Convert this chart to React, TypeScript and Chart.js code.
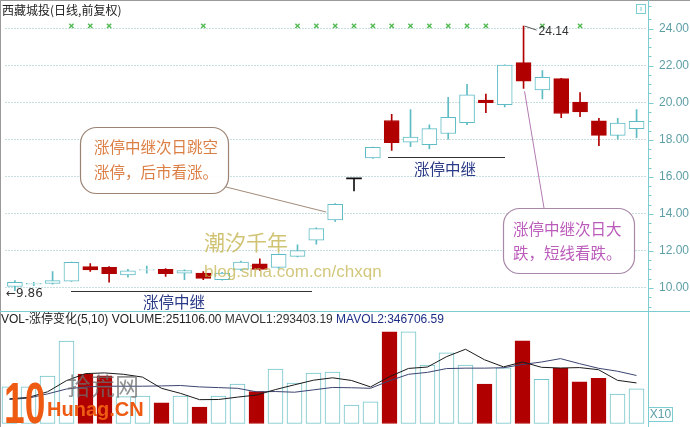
import React, { useEffect, useRef } from 'react';
import { Chart, registerables } from 'chart.js';
Chart.register(...registerables);

// ---------- data ----------
const days = ['1','2','3','4','5','6','7','8','9','10','11','12','13','14','15','16','17','18','19','20','21','22','23','24','25','26','27','28','29','30','31','32','33','34'];
const opens  = [10.08,10.20,10.24,10.37,11.15,11.11,10.70,10.96,11.01,10.80,10.80,10.45,11.00,11.30,11.11,11.71,12.58,13.67,15.92,17.02,19.04,17.87,17.73,18.34,18.92,20.15,19.89,22.17,20.69,21.30,20.03,19.02,18.24,18.60];
const highs  = [10.40,10.30,10.89,11.40,11.32,11.15,11.01,11.18,11.05,10.98,10.89,10.85,11.45,11.57,11.85,12.33,13.25,14.55,15.92,17.60,19.37,19.63,18.81,20.29,20.99,20.47,22.05,24.14,21.74,21.32,20.55,19.16,19.16,19.63];
const lows   = [9.86,10.12,10.20,10.35,10.89,10.31,10.59,10.80,10.63,10.45,10.45,10.42,10.95,10.95,11.05,11.68,12.37,13.59,15.24,17.00,17.42,17.63,17.51,18.03,18.81,19.47,19.77,20.78,20.21,19.20,19.25,17.68,18.03,18.12];
const closes = [10.30,10.25,10.40,11.39,10.98,10.77,10.92,10.99,10.77,10.94,10.52,10.80,11.40,11.00,11.81,12.02,13.20,14.51,15.92,17.59,17.84,18.15,18.60,19.21,20.43,20.01,22.03,21.16,21.37,19.42,19.51,18.24,18.90,18.99];
const volumes = [26600,26600,34300,59300,35700,34500,19500,20000,15200,20000,12100,20000,28500,23100,39300,29300,36400,37100,13600,15900,65900,65900,42100,50900,42100,28600,40200,59500,31900,39800,30200,32600,21400,25110];
const mavol1 = [18000,19000,23000,31000,36000,36500,35500,33500,25500,21900,17400,17500,19200,20700,24600,28000,31300,33000,31100,26500,33800,39700,40700,48100,53400,45900,40800,44300,40500,40000,40300,38800,31200,29340];
const mavol2 = [17500,18500,21500,25000,26500,27000,27000,27000,27200,27500,26500,26000,25500,23000,23200,22700,24400,26100,25900,25500,30900,35500,36900,39600,39900,39900,40200,42500,44300,46700,43100,39800,37700,34670];
const signalDays = [3,4,5,10,15,16,17,18,19,20,21,22,23,24,25,28,30];
const signalLevel = 24.15;
const priceTicks = [10,12,14,16,18,20,22,24];
const volumeTicks = [20000,40000,60000];
const highMark = { day: 27, label: '24.14' };
const lowMark = { day: 0, label: '←9.86' };

// ---------- styles ----------
const CYAN = '#5fbcc4';
const VCYAN = '#72c4ca';
const RED = '#b00000';
const GRID = 'rgba(110,165,175,0.75)';
const LABEL = '#5e9fa5';
const AXIS = '#7ccdd2';
const LATIN = '"Liberation Sans", Arial, "Noto Sans CJK SC", sans-serif';
const CJK = '"Noto Sans CJK SC", "Liberation Sans", sans-serif';
const AXIS_X = 648.5;

const dirColor = (i: number, up: string, down: string, flat: string) =>
  closes[i] > opens[i] ? up : closes[i] < opens[i] ? down : flat;

function txt(ctx: CanvasRenderingContext2D, s: string, x: number, y: number, font: string, color: string, align: CanvasTextAlign = 'left') {
  ctx.font = font; ctx.fillStyle = color; ctx.textAlign = align; ctx.textBaseline = 'middle';
  ctx.fillText(s, x, y);
}
function box(ctx: CanvasRenderingContext2D, x: number, y: number, w: number, h: number, r: number, stroke: string, fill: string) {
  ctx.beginPath();
  if ((ctx as any).roundRect) (ctx as any).roundRect(x, y, w, h, r);
  else ctx.rect(x, y, w, h);
  ctx.fillStyle = fill; ctx.fill();
  ctx.lineWidth = 1.2; ctx.strokeStyle = stroke; ctx.stroke();
}
function line(ctx: CanvasRenderingContext2D, x1: number, y1: number, x2: number, y2: number, color: string, w = 1) {
  ctx.beginPath(); ctx.moveTo(x1, y1); ctx.lineTo(x2, y2); ctx.strokeStyle = color; ctx.lineWidth = w; ctx.stroke();
}

const topPlugin = {
  id: 'topDecor',
  afterDraw(chart: any) {
    const ctx: CanvasRenderingContext2D = chart.ctx;
    const xs = chart.scales.x, ys = chart.scales.y;
    const H = chart.height;
    ctx.save();
    // frame
    line(ctx, 0.5, 0, 0.5, H, '#999');
    line(ctx, 0, 0.5, 690, 0.5, '#999');
    line(ctx, AXIS_X, 0, AXIS_X, H, AXIS);
    line(ctx, 0, 311.5, 690, 311.5, AXIS);
    // tick marks
    ys.ticks.forEach((t: any) => {
      const y = Math.round(ys.getPixelForValue(t.value)) + 0.5;
      const major = priceTicks.includes(t.value);
      line(ctx, AXIS_X, y, AXIS_X + (major ? 5 : 3), y, AXIS);
    });
    // icon top right
    ctx.strokeStyle = AXIS; ctx.lineWidth = 1;
    ctx.strokeRect(636.5, 4.5, 9, 9);
    line(ctx, 641, 7, 641, 11, AXIS);
    // title
    txt(ctx, '西藏城投(日线,前复权)', 2, 10.5, '12px ' + CJK, '#222');
    // high / low marks
    const hx = xs.getPixelForValue(highMark.day), hy = ys.getPixelForValue(highs[highMark.day]);
    line(ctx, hx + 1, hy, hx + 13, hy + 4, '#555');
    txt(ctx, highMark.label, hx + 15, hy + 6, '12px ' + LATIN, '#333');
    const ly = ys.getPixelForValue(lows[lowMark.day]);
    txt(ctx, lowMark.label, 6, ly + 3.5, '12px "DejaVu Sans", ' + LATIN, '#333');
    // "涨停中继" markers
    line(ctx, 71, 291.5, 312, 291.5, '#333');
    txt(ctx, '涨停中继', 174, 302, '15.5px ' + CJK, '#2b3a86', 'center');
    line(ctx, 388, 157.5, 505, 157.5, '#333');
    txt(ctx, '涨停中继', 445, 169, '15.5px ' + CJK, '#2b3a86', 'center');
    // watermark
    txt(ctx, '潮汐千年', 204, 242, '21px ' + CJK, 'rgba(200,185,90,0.85)');
    txt(ctx, 'blog.sina.com.cn/chxqn', 204, 272, '17px ' + LATIN, 'rgba(195,180,80,0.75)');
    // callout 1
    const c1x = xs.getPixelForValue(17) - 9, c1y = ys.getPixelForValue(14.1);
    line(ctx, 226, 187, c1x, c1y, '#a08a78');
    box(ctx, 80.5, 127.5, 148, 66, 16, '#9c8474', 'rgba(255,255,255,0.92)');
    txt(ctx, '涨停中继次日跳空', 94, 147.5, '15.5px ' + CJK, '#dc7f45');
    txt(ctx, '涨停，后市看涨。', 94, 172.5, '15.5px ' + CJK, '#dc7f45');
    // callout 2
    const c2x = xs.getPixelForValue(27), c2y = ys.getPixelForValue(lows[27]) + 3;
    line(ctx, c2x + 1, c2y, 544, 208, '#b27ab2');
    box(ctx, 503.5, 208.5, 131, 65, 16, '#a888a8', 'rgba(255,255,255,0.92)');
    txt(ctx, '涨停中继次日大', 513, 229, '15.5px ' + CJK, '#bb5cbb');
    txt(ctx, '跌，短线看跌。', 513, 253, '15.5px ' + CJK, '#bb5cbb');
    ctx.restore();
  },
};

const volPlugin = {
  id: 'volDecor',
  afterDraw(chart: any) {
    const ctx: CanvasRenderingContext2D = chart.ctx;
    const ys = chart.scales.y;
    const H = chart.height;
    ctx.save();
    line(ctx, 0.5, 0, 0.5, H, '#999');
    line(ctx, AXIS_X, 0, AXIS_X, H, AXIS);
    ys.ticks.forEach((t: any) => {
      if (!volumeTicks.includes(t.value)) return;
      const y = Math.round(ys.getPixelForValue(t.value)) + 0.5;
      line(ctx, AXIS_X, y, AXIS_X + 5, y, AXIS);
    });
    // title
    const parts: [string, string][] = [
      ['VOL-涨停变化(5,10) ', '#222'],
      ['VOLUME:251106.00 ', '#222'],
      ['MAVOL1:293403.19 ', '#333'],
      ['MAVOL2:346706.59', '#1f2f86'],
    ];
    let x = 1;
    ctx.font = '12px ' + LATIN;
    parts.forEach(([s, c]) => {
      txt(ctx, s, x, 8, '12px ' + LATIN, c);
      x += ctx.measureText(s).width;
    });
    // X10 box
    ctx.strokeStyle = AXIS; ctx.lineWidth = 1;
    ctx.strokeRect(648.5, 95.5, 24, 14);
    txt(ctx, 'X10', 660.5, 103, '12px ' + LATIN, LABEL, 'center');
    // logo watermark
    ctx.save();
    ctx.translate(4, 111);
    ctx.scale(0.64, 1);
    ctx.font = 'bold 58px ' + LATIN;
    ctx.fillStyle = '#ee5a12';
    ctx.textAlign = 'left'; ctx.textBaseline = 'alphabetic';
    ctx.fillText('10', 0, 0);
    ctx.restore();
    txt(ctx, '拾荒网', 67, 74, '24px ' + CJK, 'rgba(110,110,110,0.75)');
    txt(ctx, 'Hunag.CN', 47, 98, 'bold 20px ' + LATIN, '#ee5a12');
    ctx.restore();
  },
};

export default function App() {
  const topRef = useRef<HTMLCanvasElement>(null);
  const volRef = useRef<HTMLCanvasElement>(null);

  useEffect(() => {
    document.body.style.margin = '0';
    const bodyData = opens.map((o, i) => {
      const c = closes[i];
      return o === c ? [o - 0.03, o + 0.03] : [Math.min(o, c), Math.max(o, c)];
    });
    const wickData = lows.map((l, i) => [l, highs[i]]);
    const signalData = days.map((_, i) => (signalDays.includes(i) ? signalLevel : null));

    const top = new Chart(topRef.current!, {
      type: 'bar',
      data: {
        labels: days,
        datasets: [
          {
            type: 'line', data: signalData as any, showLine: false,
            pointStyle: 'crossRot', pointRadius: 3, borderColor: '#55bb55', borderWidth: 1.5,
            backgroundColor: '#55bb55', order: 0,
          } as any,
          {
            type: 'bar', data: bodyData as any, grouped: false, barThickness: 15,
            backgroundColor: days.map((_, i) => dirColor(i, '#ffffff', RED, '#111')),
            borderColor: days.map((_, i) => dirColor(i, CYAN, RED, '#111')),
            borderWidth: days.map((_, i) => dirColor(i, 1, 1, 0) as any),
            borderSkipped: false, order: 1,
          } as any,
          {
            type: 'bar', data: wickData as any, grouped: false, barThickness: 1,
            backgroundColor: days.map((_, i) => dirColor(i, CYAN, RED, '#111')),
            borderWidth: 0, order: 2,
          } as any,
        ],
      },
      options: {
        animation: false, responsive: false, events: [],
        layout: { padding: { left: 0, right: 0, top: 0, bottom: 1 } },
        plugins: { legend: { display: false }, tooltip: { enabled: false } },
        scales: {
          x: { type: 'category', offset: true, display: false, grid: { display: false } },
          y: {
            position: 'right', min: 9, max: 25.25,
            afterFit: (s: any) => { s.width = 44; s.paddingTop = 0; s.paddingBottom = 0; },
            ticks: {
              stepSize: 0.5, autoSkip: false, padding: 13, color: LABEL,
              font: { family: LATIN, size: 12 },
              callback: (v: any) => (priceTicks.includes(v) ? Number(v).toFixed(2) : ''),
            },
            grid: {
              drawTicks: false, lineWidth: 1,
              color: (c: any) => (c.tick && priceTicks.includes(c.tick.value) ? GRID : 'rgba(0,0,0,0)'),
            },
            border: { display: false, dash: [1, 2] },
          },
        },
      } as any,
      plugins: [topPlugin],
    });

    const vol = new Chart(volRef.current!, {
      type: 'bar',
      data: {
        labels: days,
        datasets: [
          { type: 'line', data: mavol1, borderColor: '#1a1a1a', borderWidth: 1, pointRadius: 0, tension: 0, order: 0 } as any,
          { type: 'line', data: mavol2, borderColor: '#3c4470', borderWidth: 1, pointRadius: 0, tension: 0, order: 0 } as any,
          {
            type: 'bar', data: volumes, barThickness: 15, borderWidth: 1, borderSkipped: false,
            backgroundColor: days.map((_, i) => (closes[i] >= opens[i] ? '#ffffff' : RED)),
            borderColor: days.map((_, i) => (closes[i] >= opens[i] ? VCYAN : RED)),
            order: 1,
          } as any,
        ],
      },
      options: {
        animation: false, responsive: false, events: [],
        layout: { padding: { left: 0, right: 0, top: 1, bottom: 3 } },
        plugins: { legend: { display: false }, tooltip: { enabled: false } },
        scales: {
          x: { type: 'category', offset: true, display: false, grid: { display: false } },
          y: {
            position: 'right', min: 0, max: 79300,
            afterFit: (s: any) => { s.width = 44; s.paddingTop = 0; s.paddingBottom = 0; },
            ticks: {
              stepSize: 20000, autoSkip: false, padding: 9, color: LABEL,
              font: { family: LATIN, size: 12 },
              callback: (v: any) => (volumeTicks.includes(v) ? String(v) : ''),
            },
            grid: {
              drawTicks: false, lineWidth: 1,
              color: (c: any) => (c.tick && volumeTicks.includes(c.tick.value) ? GRID : 'rgba(0,0,0,0)'),
            },
            border: { display: false, dash: [1, 2] },
          },
        },
      } as any,
      plugins: [volPlugin],
    });

    return () => { top.destroy(); vol.destroy(); };
  }, []);

  return (
    <div style={{ position: 'fixed', left: 0, top: 0, width: 690, height: 427, background: '#fff', overflow: 'hidden' }}>
      <canvas ref={topRef} width={690} height={312} style={{ position: 'absolute', left: 0, top: 0, width: 690, height: 312 }} />
      <canvas ref={volRef} width={690} height={115} style={{ position: 'absolute', left: 0, top: 312, width: 690, height: 115 }} />
    </div>
  );
}
